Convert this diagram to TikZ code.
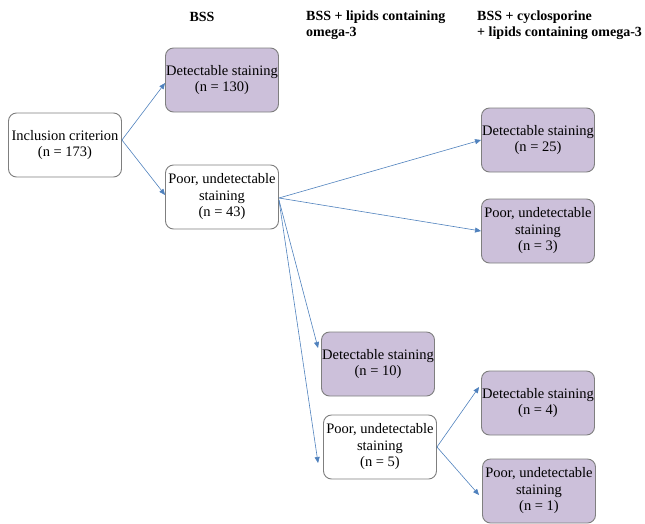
\documentclass[tikz,border=0pt]{standalone}
\usepackage{fontspec}
\setmainfont{Liberation Serif}
\usetikzlibrary{arrows.meta}
\definecolor{boxfill}{HTML}{CCC0DA}
\definecolor{boxline}{HTML}{7F7F7F}
\definecolor{arrowblue}{HTML}{4F81BD}
\tikzset{
  stagebox/.style={draw=boxline, line width=0.9pt, rounded corners=8pt, minimum width=113pt, minimum height=64pt, align=center, inner sep=0pt, font=\fontsize{14.5}{16.5}\selectfont},
  purplebox/.style={stagebox, fill=boxfill},
  whitebox/.style={stagebox, fill=white},
  flow/.style={draw=arrowblue, line width=0.6pt, -{Triangle[length=6pt,width=5pt]}},
  header/.style={font=\fontsize{14}{16.5}\selectfont\bfseries, align=left, inner sep=0pt}
}
\begin{document}
\begin{tikzpicture}[x=1pt,y=-1pt]
\useasboundingbox (0,0) rectangle (645,523);
\node[header] (h1) at (202,17) {BSS};
\node[header, anchor=west] (h2) at (306,25) {BSS + lipids containing\\omega-3};
\node[header, anchor=west] (h3) at (477,25) {BSS + cyclosporine\\+ lipids containing omega-3};

\node[whitebox] (inc) at (65,145) {Inclusion criterion\\(n = 173)};
\node[purplebox] (d130) at (222,80) {Detectable staining\\(n = 130)};
\node[whitebox] (p43) at (222,197) {Poor, undetectable\\staining\\(n = 43)};
\node[purplebox] (d25) at (538,140) {Detectable staining\\(n = 25)};
\node[purplebox] (p3) at (538,231) {Poor, undetectable\\staining\\(n = 3)};
\node[purplebox] (d10) at (378,364) {Detectable staining\\(n = 10)};
\node[whitebox] (p5) at (380,447) {Poor, undetectable\\staining\\(n = 5)};
\node[purplebox] (d4) at (538,403) {Detectable staining\\(n = 4)};
\node[purplebox] (p1) at (539,491) {Poor, undetectable\\staining\\(n = 1)};

\draw[flow] ([yshift=5pt]inc.east) -- ([yshift=-3pt]d130.west);
\draw[flow] ([yshift=5pt]inc.east) -- ([yshift=2pt]p43.west);
\draw[flow] ([yshift=-1pt]p43.east) -- (d25.west);
\draw[flow] ([yshift=-1pt]p43.east) -- (p3.west);
\draw[flow] ([yshift=-3pt]p43.east) -- ([xshift=-3pt,yshift=16pt]d10.west);
\draw[flow] ([yshift=-3pt]p43.east) -- ([xshift=-5pt,yshift=-16pt]p5.west);
\draw[flow] (p5.east) -- ([xshift=-2pt,yshift=16pt]d4.west);
\draw[flow] (p5.east) -- ([xshift=-3pt,yshift=-4pt]p1.west);
\end{tikzpicture}
\end{document}
